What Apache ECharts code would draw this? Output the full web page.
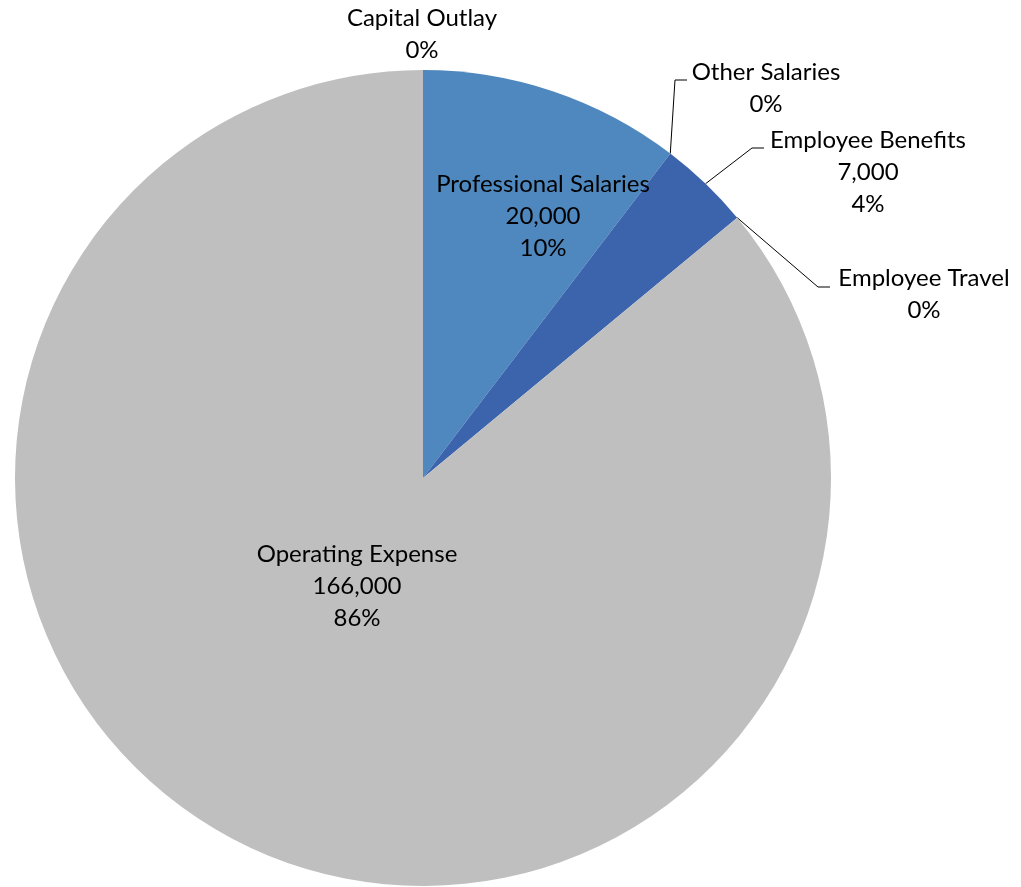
<!DOCTYPE html>
<html>
<head>
<meta charset="utf-8">
<script src="https://cdn.jsdelivr.net/npm/echarts@6/dist/echarts.min.js"></script>
<style>
html,body{margin:0;padding:0;background:#fff;}
#chart{width:1021px;height:887px;}
</style>
</head>
<body>
<div id="chart"></div>
<script>
// ---- data ----
const categories = ['Professional Salaries', 'Other Salaries', 'Employee Benefits', 'Employee Travel', 'Operating Expense', 'Capital Outlay'];
const values = [20000, 0, 7000, 0, 166000, 0];
const colors = ['#4F88BE', '#4F88BE', '#3B64AD', '#3B64AD', '#BFBFBF', '#BFBFBF'];

// label placement (centre of label block) and leader line elbow, per category
const labelPos = {
  'Professional Salaries': {x: 543, y: 216, line: null},
  'Other Salaries':        {x: 766, y: 88,  line: [[675, 80], [687, 80]]},
  'Employee Benefits':     {x: 868, y: 172, line: [[752, 148], [764, 148]]},
  'Employee Travel':       {x: 924, y: 294, line: [[818, 287], [830, 287]]},
  'Operating Expense':     {x: 357, y: 586, line: null},
  'Capital Outlay':        {x: 422, y: 34,  line: null}
};

const FONT = 'Lato';
const total = values.reduce((a, b) => a + b, 0);
const cx = 423, cy = 478, R = 408;

function fmt(v) { return v.toLocaleString('en-US'); }

// mid angle of each slice (clockwise from 12 o'clock)
const midAngles = [];
let acc = 0;
values.forEach(v => { midAngles.push((acc + v / 2) / total * 2 * Math.PI); acc += v; });

const chart = echarts.init(document.getElementById('chart'), null, {renderer: 'canvas'});
chart.setOption({
  animation: false,
  backgroundColor: '#ffffff',
  series: [{
    type: 'pie',
    center: [cx, cy],
    radius: R,
    startAngle: 90,
    clockwise: true,
    avoidLabelOverlap: false,
    stillShowZeroSum: true,
    itemStyle: {borderWidth: 0},
    emphasis: {disabled: true},
    label: {
      show: true,
      position: 'outside',
      fontFamily: FONT,
      fontSize: 24,
      lineHeight: 32,
      color: '#000000',
      align: 'center',
      formatter: p => {
        const pct = Math.round(p.percent) + '%';
        return p.value ? p.name + '\n' + fmt(p.value) + '\n' + pct : p.name + '\n' + pct;
      }
    },
    labelLine: {show: true, lineStyle: {color: '#000000', width: 1}, length: 10, length2: 10},
    labelLayout: p => {
      const name = categories[p.dataIndex];
      const lp = labelPos[name];
      const out = {x: lp.x, y: lp.y, align: 'center', verticalAlign: 'middle'};
      if (lp.line) {
        const a = midAngles[p.dataIndex];
        const start = [cx + R * Math.sin(a), cy - R * Math.cos(a)];
        out.labelLinePoints = [start, lp.line[0], lp.line[1]];
      }
      return out;
    },
    data: categories.map((c, i) => ({
      name: c,
      value: values[i],
      itemStyle: {color: colors[i]},
      label: (c === 'Professional Salaries' || c === 'Operating Expense') ? {position: 'inside'} : {},
      labelLine: {show: !!labelPos[c].line}
    }))
  }]
});
</script>
</body>
</html>
